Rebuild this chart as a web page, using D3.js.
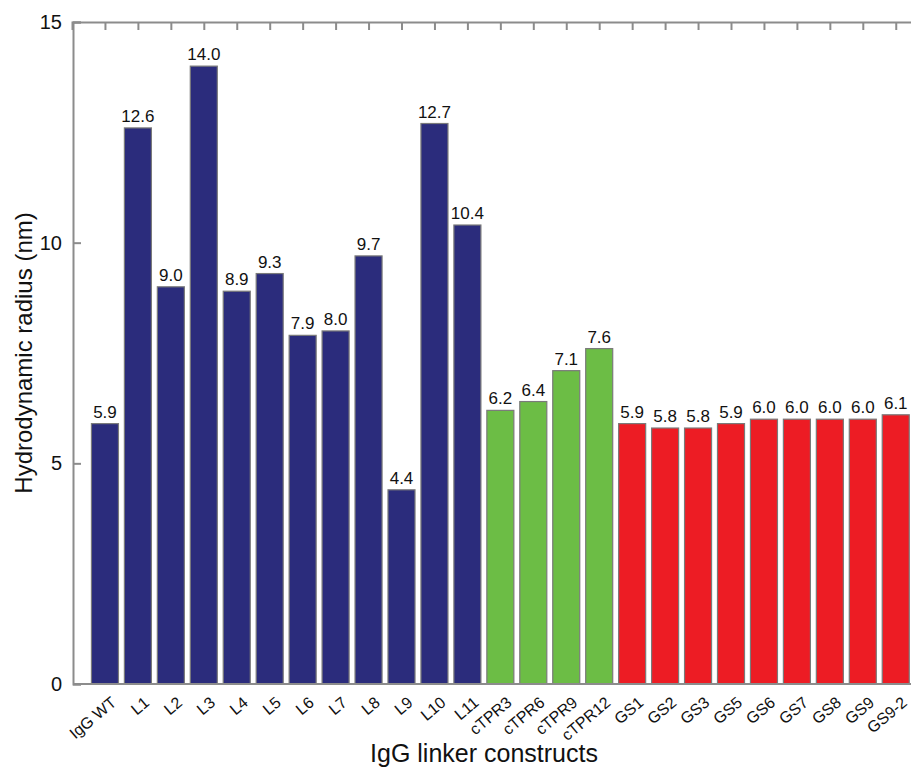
<!DOCTYPE html>
<html>
<head>
<meta charset="utf-8">
<script src="https://d3js.org/d3.v7.min.js"></script>
<style>
  body { margin: 0; background: #fff; }
  text { font-family: Arial, "Liberation Sans", sans-serif; }
</style>
</head>
<body>
<script>
const categories = ['IgG WT','L1','L2','L3','L4','L5','L6','L7','L8','L9','L10','L11',
  'cTPR3','cTPR6','cTPR9','cTPR12','GS1','GS2','GS3','GS5','GS6','GS7','GS8','GS9','GS9-2'];
const values = [5.9,12.6,9.0,14.0,8.9,9.3,7.9,8.0,9.7,4.4,12.7,10.4,
  6.2,6.4,7.1,7.6,5.9,5.8,5.8,5.9,6.0,6.0,6.0,6.0,6.1];
const groups = ['L','L','L','L','L','L','L','L','L','L','L','L',
  'T','T','T','T','G','G','G','G','G','G','G','G','G'];
const yTicks = [0, 5, 10, 15];
const colors = { L: '#2b2c7c', T: '#6cbd45', G: '#ed1c24' };

const width = 911, height = 769;
const mLeft = 73, mTop = 22, step = 32.95, plotH = 662;

const svg = d3.select('body').append('svg')
  .attr('width', width).attr('height', height);

const x = d3.scaleLinear().domain([0, categories.length + 1])
  .range([72, 72 + step * (categories.length + 1)]);
const y = d3.scaleLinear().domain([0, 15]).range([mTop + plotH, mTop]);
const bw = step * 0.82;

const axisColor = '#8c8c8c';

// bars
svg.selectAll('rect.bar')
  .data(values)
  .enter().append('rect')
  .attr('class', 'bar')
  .attr('x', (d, i) => x(i + 1) - bw / 2)
  .attr('y', d => y(d))
  .attr('width', bw)
  .attr('height', d => y(0) - y(d))
  .attr('fill', (d, i) => colors[groups[i]])
  .attr('stroke', '#7a7a7a')
  .attr('stroke-width', 1.2);

// value labels
svg.selectAll('text.val')
  .data(values)
  .enter().append('text')
  .attr('class', 'val')
  .attr('x', (d, i) => x(i + 1))
  .attr('y', d => y(d) - 6)
  .attr('text-anchor', 'middle')
  .attr('font-size', 17)
  .attr('fill', '#111')
  .text(d => d.toFixed(1));

// left axis
const yAxis = svg.append('g')
  .attr('transform', `translate(${mLeft},0)`)
  .call(d3.axisLeft(y).tickValues(yTicks).tickSize(-8).tickPadding(11));
yAxis.select('.domain').attr('stroke', axisColor).attr('stroke-width', 2);
yAxis.selectAll('.tick line').attr('stroke', axisColor).attr('stroke-width', 2);
yAxis.selectAll('.tick text').attr('font-size', 20).attr('fill', '#111')
  .attr('font-family', 'Arial, "Liberation Sans", sans-serif');

// top axis (mirrored ticks)
const topAxis = svg.append('g')
  .attr('transform', `translate(0,${mTop})`)
  .call(d3.axisTop(x).tickValues(d3.range(1, categories.length + 1)).tickSize(-8).tickFormat(''));
topAxis.select('.domain').attr('stroke', axisColor).attr('stroke-width', 2);
topAxis.selectAll('.tick line').attr('stroke', axisColor).attr('stroke-width', 2);

// bottom axis
const xAxis = svg.append('g')
  .attr('transform', `translate(0,${mTop + plotH})`)
  .call(d3.axisBottom(x).tickValues(d3.range(1, categories.length + 1))
    .tickSize(0).tickFormat(i => categories[i - 1]));
xAxis.select('.domain').attr('stroke', axisColor).attr('stroke-width', 2)
  .attr('d', `M${mLeft},0H${width}`);
xAxis.selectAll('.tick text')
  .attr('font-size', 16)
  .attr('fill', '#111')
  .attr('font-family', 'Arial, "Liberation Sans", sans-serif')
  .attr('text-anchor', 'end')
  .attr('dy', 0)
  .attr('transform', 'translate(10,18) rotate(-40)');

// axis titles
svg.append('text')
  .attr('x', 484).attr('y', 762)
  .attr('text-anchor', 'middle')
  .attr('font-size', 25)
  .attr('fill', '#111')
  .text('IgG linker constructs');

svg.append('text')
  .attr('transform', `translate(32,${mTop + plotH / 2}) rotate(-90)`)
  .attr('text-anchor', 'middle')
  .attr('font-size', 24)
  .attr('fill', '#111')
  .text('Hydrodynamic radius (nm)');
</script>
</body>
</html>
